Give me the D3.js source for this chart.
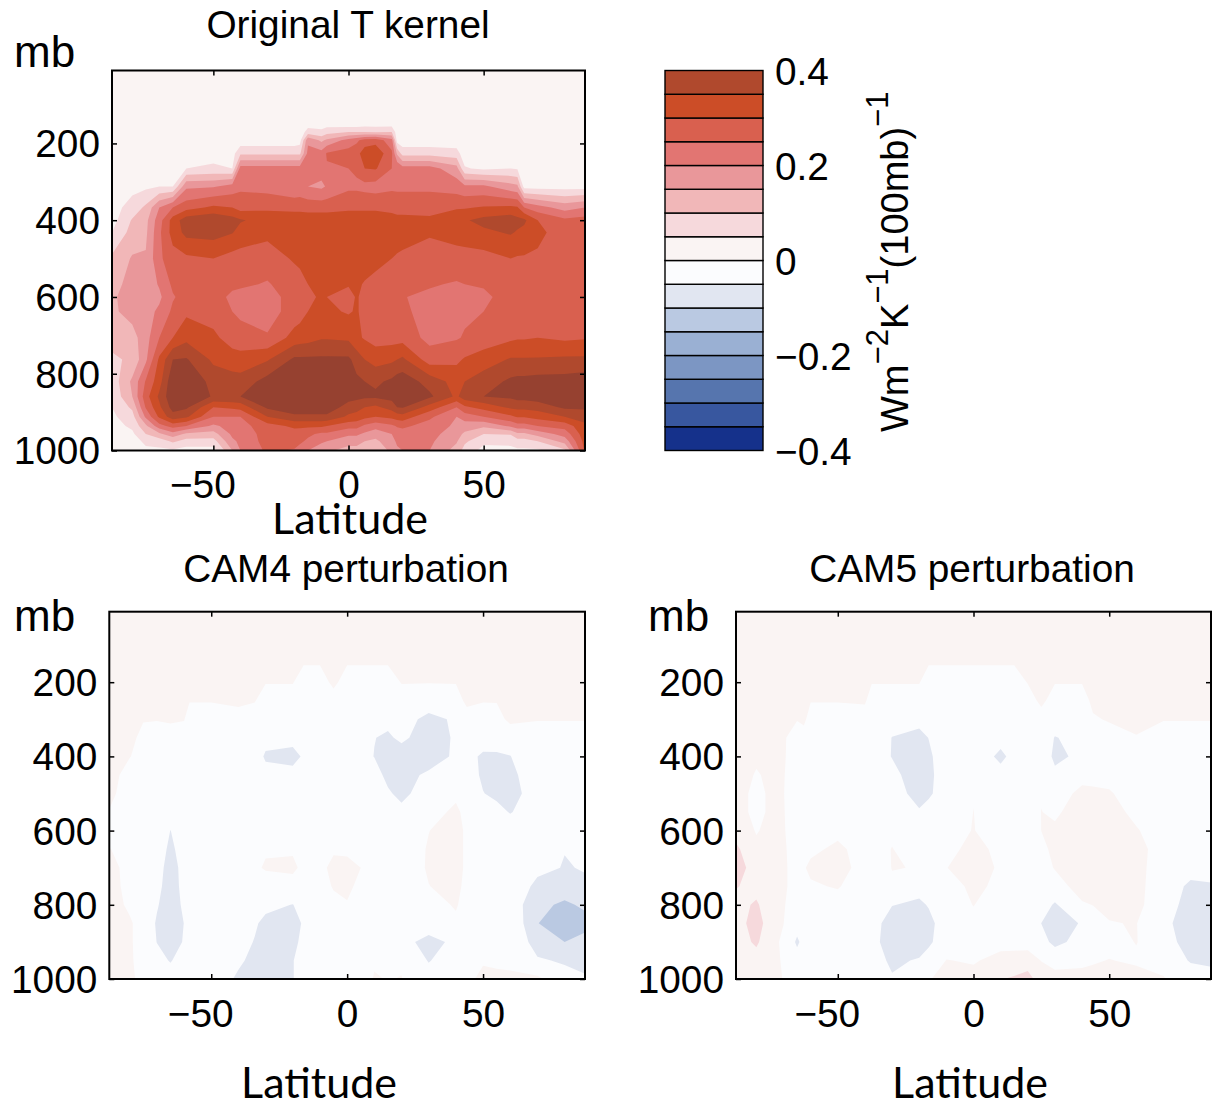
<!DOCTYPE html>
<html><head><meta charset="utf-8">
<script src="https://cdn.jsdelivr.net/npm/d3@7"></script>
<style>
html,body{margin:0;padding:0;background:#fff}
svg{display:block}
text{font-family:"Liberation Sans",Arial,sans-serif;font-size:38.8px;fill:#000}
.lat{font-family:Lato,"Open Sans",sans-serif;font-size:43px}
.mb{font-size:44px}
</style></head><body>
<svg id="c" width="1216" height="1106"></svg>
<script>
// values are in hundredths of W m-2 K-1 (100mb)-1
const contourLevels = [-40,-35,-30,-25,-20,-15,-10,-5,0,5,10,15,20,25,30,35,40];
const bandColors = ["#15318B","#38579F","#5675AE","#7C96C3","#9AB0D3","#BAC9E2","#E1E6F1","#FBFCFE","#FAF4F3","#F6D9DC","#F1B7B8","#E9979A","#E27572","#D9604F","#CC4D27","#B0492D","#964130"];
const colorbarTicks = [-40,-20,0,20,40];
const latTicks = [-50,0,50];
const pressureTicks = [200,400,600,800,1000];

const kernelLevels = [10,150,170,192,226,265,312,367,400,432,500,567,600,638,706,763,820,859,887,912,936,957,976,1000];
const kernelLats = [-87.5,-80,-75,-70,-65,-60,-50,-43,-40,-30,-20,-18,-15,-10,-8,0,3,6,10,16,18,20,30,40,43,50,60,62.5,65,70,80,87.5];
// one line per latitude, top of the atmosphere first
const kernelColumns = [
[3,3,3,3,3,3,3,3,3,5,11,13,14,14,12,9,7,6,5,4,3,3,2,2],
[3,3,3,3,3,3,3.5,7,10.5,12,15.5,17,18,17,13,11,16,15,11,8,6,4,3,2],
[3,3,3,3,3,3,4,11,13.5,14,15.5,17,18,18,18,19,25.5,28,25.5,21,14,10,6,4],
[3,3,3,3,3,3,5,20,23,24,24,20.5,19,21,25,31,33,36,34,31,23,14,7,4],
[2,2,2,2,3,3,5,25,32,32,28,26,24.5,26,30,40,44,44,42,38,27,18,11,4],
[2,2,2,2,3,5,19,28,38,36.5,29,27,27,29,33.5,40.5,45,44,41,36,25,14,8,3],
[2,2,2,2,3,6,19.5,31,39.5,37,30,27,27,28,31,34,38,39.5,30,25,19,13,8,3],
[2,2,2,2,3,5,22,30,37,35.3,28,26,24,25,28,32,37.5,40,31,25,22,21,19,15],
[2,2,2,2,9,22,24,28,35.5,33,28,26,23,24,27,32,37,40,32,25,23,22,21,20],
[2,2,2,2,9,22,23,29,33,31,28,24.5,23,23,25.5,34.5,42,42,41,35,28,27,27,26],
[2,2,2,2,9,22,21,28.5,33,34,30.5,28,27,27,32,41,43,43.5,43,39,31,28,27,24.5],
[2,2,2,3,9,22,21.5,28.5,33,34,31,28.5,27.5,28,32.5,41,43,43.5,43,39,31,27.5,26,23],
[2,3,7,19,21.5,22,20,28,33,34,33,30,28.5,30,33,41,43.5,44,43,39,31,26,24,20],
[2,3,6,14,22,22,19,28,33,34,34,32,31,32,34.5,41,44,44,43,39,31,24,21,16],
[2,3,8,16,25.5,24.5,20.5,28,33,34,34,31.5,30,31,34.5,41,44,44,43,39,30,24,20,16],
[2,2,10,22,27,25,24,29,33,34,34,30.5,28,29.5,34,41,43,42,38,34,27,21,17,13],
[2,2,10,24,28,26,24,29,33,34,34,31,30.5,30.5,31,38,41,41.5,37,33,27,21,17,13],
[2,3,10,27,33,30,23.5,29,33,33.5,33,29.5,28.5,28.5,29.5,35,40,41,35,31.5,24,19,15,12.5],
[2,3,9,28,34,30.5,23,29,33,33,32,28,27,27,28,33,39,41,34,30,22,17,14,12],
[2,3,10,22,26,25,24,28.5,32,32.5,30,27.5,26,26.5,28,34,41,42,37,31.5,24,20,18,16],
[2,2,2,3,14,24.5,24,28,31.5,32,29.5,27,25.5,26,28,35,42.5,43,40,32.5,25.5,22.5,21,19],
[2,2,2,2,8,22,24,28,31.5,32,29,27,25.2,26,28,36,43,43,40.5,33,26,23,22,20],
[2,2,2,2,8,22,24,28,31,30.5,28,25.5,24,23,23.5,27.5,38,41,33,26,23,22,21,20],
[2,2,2,2,7,17,22.5,29.5,33,31.5,28.5,24.5,23,23,24.5,29,33,34,25,20,19,17,15.5,13],
[2,2,2,2,2,5.5,21,29.5,34.5,32.5,28,25,23.5,24,25.5,30.5,35,38,29,22.5,17.5,14,11,8],
[2,2,2,2,2,4,21,30.5,36.5,34,28,25.5,24,25,27,32.5,37.5,40,32,25,16,10,6,3.5],
[2,2,2,2,2,5,17,31,38,35.5,30,28,27,27,29,35.5,41,41,36,29,21,10.5,6,4],
[2,2,2,2,2,4.5,16,30.5,36.5,34.5,29.5,28,27,27,29.5,35.5,41.5,42,36.5,30.5,23,14,8,4],
[2,2,2,2,2,2,3,25,36,33.5,29.5,28,27,27,29.5,35.5,41.5,42,36.5,30.5,23,14,8,4],
[2,2,2,2,2,2,3,22,30,31.5,29,28,27,27,30,35.5,42,43,37,32,25,17,10,4],
[2,2,2,2,2,2,3,18,26,27,27,27,27,27,29,36,42,43,41,35,27,22,17,9],
[2,2,2,2,2,2,3,20,27,27,27,28,28,28,29.5,36,43,43,41,37,34,33,32,31]
];

const perturbLevels = [10,150,200,250,300,350,400,450,500,550,600,650,700,750,800,850,900,950,1000];
const cam4Lats = [-87.5,-80,-75,-70,-65,-60,-50,-40,-30,-20,-10,-5,0,10,20,30,40,50,60,70,80,87.5];
// one line per pressure level
const cam4Rows = [
[2,2,2,2,2,2,2,2,2,2,2,2,2,2,2,2,2,2,2,2,2,2],
[2,2,2,2,2,2,2,2,2,2,.2,2,.2,.2,2,2,2,2,2,2,2,2],
[2,2,2,2,2,2,2,2,.2,.2,-2,1,-2,-2,.2,.2,.2,2,2,2,2,2],
[2,2,2,2,2,2,.2,1,-2,-2,-2,-2,-2,-2,-2,-3,-2,.2,2,2,2,2],
[2,2,.2,.2,.6,.2,-2,-2,-2,-2,-2,-2,-2,-4.5,-3.5,-6,-4.5,-2,1,.2,.2,.2],
[2,1,-1,-2,-2,-2,-2,-2,-4,-3.5,-2,-2,-2,-4.9,-4.2,-7,-4.5,-3.5,-3,-2,-2,-2],
[2,.1,-1,-2,-2,-2,-2,-2,-5.4,-6.5,-2,-2,-2,-5.1,-7,-8,-4,-5.5,-5.1,-2,-2,-2],
[1,-1,-2,-2,-2,-2,-2,-2,-4,-3.5,-2,-2,-2,-3.5,-7,-4,-3,-5.5,-6,-2.5,-2,-2],
[.5,-1,-2,-2,-2,-2,-2,-2,-2,-2,-2,-2,-2,-2.5,-6,-3,-1,-4.9,-6.5,-3,-2,-2],
[-.1,-1,-2,-2,-2,-2,-2,-2,-2,-2,-2,-2,-2,-2,-4,-2,1,-3,-5.2,-3,-2,-2],
[-1,-1,-2,-2,-5.05,-3,-2,-2,-2,-2,-2,-2,-2,-2,-3,-.1,2,-3,-3,-2.5,-2,-2],
[.1,-1,-2,-2.5,-6,-3,-2,-2,-.3,-.3,-1.5,-.5,-1,-2,-3,.4,2,-3,-2,-3,-4.9,-3],
[1,-1,-2,-3,-7,-3.5,-2,-2,.3,.5,-1,1,1.5,-1.5,-3,.5,2,-3,-2,-4,-5.2,-4.8],
[1,-.8,-2,-3.5,-7.5,-3.5,-2,-2,-1.5,-1,-1.5,.3,.6,-2,-3,-.1,1.5,-3,-2,-6,-7,-5.5],
[1,-.4,-2,-4.5,-8,-4,-2,-2,-4,-5.1,-2,-1,-.2,-2,-2.5,-2,.5,-3,-2,-8.5,-11,-9],
[1,.3,-1,-5.6,-9,-4.9,-3,-3,-6,-7,-2.5,-2,-2,-2,-2,-2.5,-1,-2,-.5,-9.8,-14,-12],
[1,.3,-1,-5.1,-8,-4.5,-2.5,-3.5,-7,-6,-3,-2,-2,-2,-3.5,-6.5,-4,-2,-1,-7,-10,-8],
[1,.3,-.8,-3.5,-5.3,-3,-2.5,-4.5,-7,-5.2,-2,-2,-2,-.3,-.4,-5.3,-2,-.2,-.6,-4.5,-5.5,-5.5],
[1,.2,-.3,-2,-3,-2,-3,-5.5,-7,-5.2,-2,-2,-3,.2,.1,-3,-1,.5,.5,1,-3.5,-4.8]
];
// extra latitudes read where the contours step sharply
const cam4ExtraLats = [-58,-34,-16,15,44,55];
const cam4ExtraColumns = [
[2,2,2,.2,-2,-2,-2,-2,-2,-2,-2.5,-2.5,-3,-3,-3,-3.5,-3,-2.5,-2],
[2,2,2,.2,-2,-2,-3.5,-2,-2,-2,-2,-1,-.5,-2,-3,-4.5,-5.2,-5.8,-6.2],
[2,.2,-2,-2,-2,-2,-4.4,-2.2,-2,-2,-2,-1,-.6,-1.2,-3.5,-4.4,-4,-3,-3],
[2,.2,-2,-2,-4,-5.6,-6.5,-6,-4.5,-3,-2.5,-2.5,-2.2,-2.5,-2,-2,-2.5,-.5,-.1],
[2,2,2,1,-2,-3,-4,-3.5,-2.5,-1.5,-1,-1,-1,-1.5,-2,-1.5,-2,-1,-.5],
[2,2,2,.2,-1.5,-3,-5.6,-5.7,-5.7,-4,-3,-2.5,-2.5,-2.5,-2.5,-1.5,-1.5,-.4,.5]
];

const cam5Lats = [-87.5,-80,-75,-70,-65,-60,-50,-40,-30,-20,-10,0,10,20,25,30,40,50,60,70,80,87.5];
const cam5Rows = [
[2,2,2,2,2,2,2,2,2,2,2,2,2,2,2,2,2,2,2,2,2,2],
[2,2,2,2,2,2,2,2,2,2,.2,.2,.2,2,2,2,2,2,2,2,2,2],
[2,2,2,2,2,2,2,2,.2,.2,-2,-2,-2,.2,2,.2,.2,2,2,2,2,2],
[2,2,2,2,2,.2,.2,.5,-2,-2,-2,-2,-2,-2,1,-2,-2,2,2,2,2,2],
[2,2,2,2,.2,-2,-2,-2,-3.5,-3.5,-2,-2,-2,-2,-2,-2,-2,.4,1,.2,.2,.2],
[2,2,2,.5,-2,-2,-2,-2,-5.1,-6.5,-2,-2,-3.5,-2,-1,-5.3,-3,-2,-.2,-2,-2,-2],
[2,1,1,.4,-2,-2,-2,-2,-5.2,-8,-2,-2,-6,-2,-.5,-6.5,-3.5,-2,-2,-2,-2,-2],
[3,-.5,1,.2,-2,-2,-2,-2,-3.5,-8,-2.5,-2,-3.5,-2,-1,-3.5,-1,-1,-2,-2,-2,-2],
[3,-2,1,.1,-2,-2,-2,-2,-2.5,-7,-3,-.1,-2,-2,-.2,-1.5,.8,.3,-1.5,-2,-2,-2],
[3,-2,1,.2,-2,-2,-2,-2,-2,-4.5,-2,.03,-2,-2,.05,-.5,1.5,1.5,-1,-2,-2,-2],
[3,-.3,1,.3,-2,-2,-.6,-2,-.3,-2,-1,.1,-1.5,-2,.03,.5,2,2,.3,-2,-2,-2],
[6,1,1,.3,-1,-.5,.5,-1,.05,-.8,-.5,.5,-.4,-2,-1,1,2,2,1.5,-2,-2,-2],
[7,3,1,.4,-1,.5,3,-3,.1,-.1,-.05,1,-.3,-2,-2,.3,2,2,1.2,-2,-3,-3],
[5.5,2.5,1,.4,-1,-.3,.2,-1.5,-.5,-3,-1,.5,-.5,-2,-2,-2,2,2,1,-2,-6,-5.5],
[2.5,6,1,.3,-2,-2,-1,-2,-4.8,-6,-2,.1,-2,-2,-3,-5.5,-.5,.5,1,-2.5,-7,-7],
[2,8,2,.05,-3,-2,-2,-1,-8,-9,-2,-1,-2,-2,-5.05,-8,-4.5,-.1,.1,-3.5,-8,-8],
[2,6,1,-.5,-5.8,-2,-2,-2,-8,-8,-2,-2,-1,-2.5,-3,-6.5,-3,-1,.1,-2,-8,-8],
[2,2.5,1,-.3,-3,-2,-2,-2,-6,-4.5,.1,-.3,1,3,-.2,-1,-.7,.1,-.4,-1,-5.5,-5.5],
[2,2,1,-.1,-2,-2,-2,-2,-4.5,-1,1,1,4.8,6.5,3,1,1,1,1,.2,-2,-4]
];
const cam5ExtraLats = [-62.5,-37.5,-16.5,15,44];
const cam5ExtraColumns = [
[2,2,2,2,1,-2,-2,-2,-2,-2,-2,-.8,-.2,-.7,-2,-2,-3.5,-2.5,-2],
[2,2,.2,-2,-2,-2,-2,-2,-2,-2,-1.6,-.7,-2.2,-1.3,-2.5,-2.2,-3,-2.5,-2.5],
[2,.2,-2,-2,-3,-4.9,-5.9,-6.1,-5.6,-3.6,-1.6,-.7,-.1,-2.3,-4.6,-6.6,-5.9,-2.9,-.2],
[2,.2,-2,-2,-2,-2.5,-3.6,-2.5,-2,-2,-1.8,-1.2,-1.2,-1.2,-2,-2,-1.8,2,5.6],
[2,2,2,1,-.5,-2.5,-3,-1,.6,1.5,2,2,2,2,.1,-2.5,-2,-.3,1]
];

const svg = d3.select("#c");
const color = d3.scaleThreshold().domain(contourLevels.slice(1)).range(bandColors);
const fmt = d3.format("d");
let clipId = 0;

// slot the extra latitude columns into a rows table
function mergeColumns(rows,lats,extraLats,extraColumns){
  const cols = d3.transpose(rows).map((c,i)=>({lat:lats[i],c}));
  extraLats.forEach((lat,i)=>cols.push({lat,c:extraColumns[i]}));
  cols.sort((a,b)=>a.lat-b.lat);
  return {lats:cols.map(d=>d.lat),rows:d3.transpose(cols.map(d=>d.c))};
}

function drawPanel(opt){
  const {rows,lats,levels,x0,x1,y0,y1} = opt;
  const x = d3.scaleLinear().domain([-87.5,87.5]).range([x0,x1]);
  const y = d3.scaleLinear().domain([10,1000]).range([y0,y1]);
  const g = svg.append("g");
  const id = "clip"+(clipId++);
  g.append("clipPath").attr("id",id).append("rect").attr("x",x0).attr("y",y0).attr("width",x1-x0).attr("height",y1-y0);
  const n = lats.length, m = levels.length;
  const lonAt = d3.scaleLinear().domain(d3.range(n)).range(lats);
  const levAt = d3.scaleLinear().domain(d3.range(m)).range(levels);
  const proj = d3.geoTransform({point(a,b){this.stream.point(x(lonAt(a-.5)),y(levAt(b-.5)));}});
  const path = d3.geoPath(proj);
  const bands = d3.contours().size([n,m]).thresholds(contourLevels)(rows.flat());
  const plot = g.append("g").attr("clip-path",`url(#${id})`);
  plot.append("rect").attr("x",x0).attr("y",y0).attr("width",x1-x0).attr("height",y1-y0).attr("fill",bandColors[0]);
  plot.selectAll("path").data(bands).join("path").attr("d",path).attr("fill",d=>color(d.value));

  const tick = 5;
  const axB = g.append("g").attr("transform",`translate(0,${y1})`).call(d3.axisBottom(x).tickValues(latTicks).tickSizeInner(-tick).tickSizeOuter(0).tickPadding(opt.xPad).tickFormat(fmt));
  axB.selectAll("text").attr("dx",d=>d<0?-11:0);
  g.append("g").attr("transform",`translate(0,${y0})`).call(d3.axisTop(x).tickValues(latTicks).tickSizeInner(-tick).tickSizeOuter(0).tickFormat(""));
  const axL = g.append("g").attr("transform",`translate(${x0},0)`).call(d3.axisLeft(y).tickValues(pressureTicks).tickSizeInner(-tick).tickSizeOuter(0).tickPadding(12).tickFormat(fmt));
  axL.selectAll("text").attr("y",1);
  g.append("g").attr("transform",`translate(${x1},0)`).call(d3.axisRight(y).tickValues(pressureTicks).tickSizeInner(-tick).tickSizeOuter(0).tickFormat(""));
  g.selectAll(".domain").remove();
  g.selectAll(".tick line").attr("stroke","#000").attr("stroke-width",1.5);
  g.selectAll(".tick text").style("font-size","38.8px").style("font-family",'"Liberation Sans",Arial,sans-serif');
  g.append("rect").attr("x",x0).attr("y",y0).attr("width",x1-x0).attr("height",y1-y0).attr("fill","none").attr("stroke","#000").attr("stroke-width",2);

  g.append("text").attr("x",opt.titleX).attr("y",opt.titleY).attr("text-anchor","middle").text(opt.title);
  g.append("text").attr("class","mb").attr("x",opt.mbX).attr("y",opt.mbY).text("mb");
  g.append("text").attr("class","lat").attr("x",opt.latX).attr("y",opt.latY).attr("text-anchor","middle").text("Latitude");
}

const cam4 = mergeColumns(cam4Rows,cam4Lats,cam4ExtraLats,cam4ExtraColumns);
const cam5 = mergeColumns(cam5Rows,cam5Lats,cam5ExtraLats,cam5ExtraColumns);

drawPanel({rows:d3.transpose(kernelColumns),lats:kernelLats,levels:kernelLevels,x0:112,x1:585,y0:70.5,y1:450.5,xPad:20,
  title:"Original T kernel",titleX:348,titleY:38,mbX:14,mbY:67,latX:350,latY:534});
drawPanel({rows:cam4.rows,lats:cam4.lats,levels:perturbLevels,x0:109.3,x1:585,y0:611.7,y1:979,xPad:20,
  title:"CAM4 perturbation",titleX:346,titleY:582,mbX:14,mbY:631,latX:319,latY:1098});
drawPanel({rows:cam5.rows,lats:cam5.lats,levels:perturbLevels,x0:736,x1:1211,y0:611.7,y1:979,xPad:20,
  title:"CAM5 perturbation",titleX:972,titleY:582,mbX:648,mbY:631,latX:970,latY:1098});

// colour bar
const cbY = d3.scaleLinear().domain([-40,40]).range([450.5,70.5]);
const cb = svg.append("g");
cb.selectAll("rect").data(contourLevels.slice(0,-1)).join("rect")
  .attr("x",665).attr("width",98).attr("y",d=>cbY(d+5)).attr("height",d=>cbY(d)-cbY(d+5))
  .attr("fill",d=>color(d)).attr("stroke","#000").attr("stroke-width",1.4);
cb.selectAll("text").data(colorbarTicks).join("text")
  .attr("x",775).attr("y",d=>cbY(d)+1).attr("dy","0.35em")
  .text(d=>d===0?"0":d3.format(".1f")(d/100).replace("-","\u2212"));

// rotated unit label
const unit = svg.append("text").attr("transform","translate(908,432) rotate(-90)");
const parts = [["Wm",0],["\u22122",1],["K",0],["\u22121",1],["(100mb)",0],["\u22121",1]];
let raised = 0;
parts.forEach(([s,sup])=>{
  const rise = sup? 20 : 0;
  unit.append("tspan").attr("dy",raised-rise).style("font-size",sup?"31px":"38px").text(s);
  raised = rise;
});
</script>
</body></html>
